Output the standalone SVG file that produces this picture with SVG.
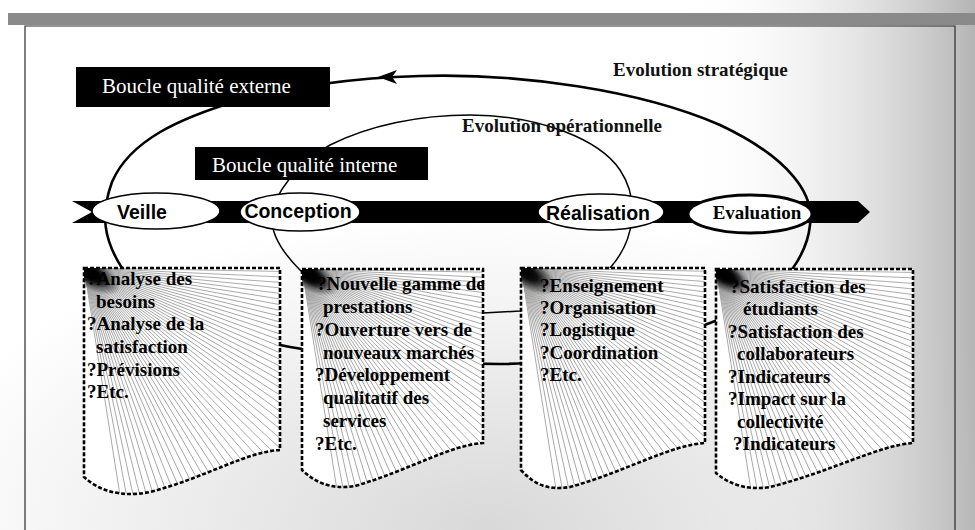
<svg xmlns="http://www.w3.org/2000/svg" xmlns:xlink="http://www.w3.org/1999/xlink" width="975" height="530" viewBox="0 0 975 530">
<style>
.frame{fill:none;stroke:#2a2a2a;stroke-width:1.2}
.loopO{fill:none;stroke:#000;stroke-width:2.6}
.loopI{fill:none;stroke:#000;stroke-width:1.5}
.lab{fill:#000}
.labT{font-family:"Liberation Serif","Times New Roman",serif;font-size:21px;fill:#fff}
.evo{font-family:"Liberation Serif","Times New Roman",serif;font-size:19px;font-weight:bold;fill:#111}
.ell{fill:#fff;stroke:#000;stroke-width:1.6}
.eT{font-family:"Liberation Sans",Arial,sans-serif;font-size:19.5px;font-weight:bold;fill:#000;text-anchor:middle}
.eS{font-family:"Liberation Serif","Times New Roman",serif;font-size:19px;font-weight:bold;fill:#000;text-anchor:middle}
.boxF{fill:#fff;stroke:none}
.box{fill:none;stroke:#000;stroke-width:2.6;stroke-dasharray:4 2}
.bT{font-family:"Liberation Serif","Times New Roman",serif;font-size:19px;font-weight:bold;fill:#000}
.fl{stroke:#8c8c8c;stroke-width:0.7}
</style>
<defs>
<linearGradient id="bgx" x1="0" y1="0" x2="1" y2="0">
<stop offset="0" stop-color="#fff" stop-opacity="0"/>
<stop offset="0.7" stop-color="#fff" stop-opacity="0"/>
<stop offset="1" stop-color="#b4b4b4" stop-opacity="1"/>
</linearGradient>
<radialGradient id="bgb" cx="0.5" cy="1" r="0.6">
<stop offset="0" stop-color="#cfcfcf" stop-opacity="0.8"/>
<stop offset="1" stop-color="#cfcfcf" stop-opacity="0"/>
</radialGradient>
<radialGradient id="blob">
<stop offset="0" stop-color="#000" stop-opacity="1"/>
<stop offset="0.35" stop-color="#000" stop-opacity="0.9"/>
<stop offset="1" stop-color="#000" stop-opacity="0"/>
</radialGradient>
<line id="ln" x1="0" y1="0" x2="460" y2="0" class="fl"/>
<g id="fan">
<use href="#ln" transform="rotate(1)"/><use href="#ln" transform="rotate(2.6)"/><use href="#ln" transform="rotate(4.2)"/><use href="#ln" transform="rotate(5.8)"/><use href="#ln" transform="rotate(7.4)"/><use href="#ln" transform="rotate(9)"/><use href="#ln" transform="rotate(10.6)"/><use href="#ln" transform="rotate(12.2)"/><use href="#ln" transform="rotate(13.8)"/><use href="#ln" transform="rotate(15.4)"/><use href="#ln" transform="rotate(17)"/><use href="#ln" transform="rotate(18.6)"/><use href="#ln" transform="rotate(20.2)"/><use href="#ln" transform="rotate(21.8)"/><use href="#ln" transform="rotate(23.4)"/><use href="#ln" transform="rotate(25)"/><use href="#ln" transform="rotate(26.6)"/><use href="#ln" transform="rotate(28.2)"/><use href="#ln" transform="rotate(29.8)"/><use href="#ln" transform="rotate(31.4)"/><use href="#ln" transform="rotate(33)"/><use href="#ln" transform="rotate(34.6)"/><use href="#ln" transform="rotate(36.2)"/><use href="#ln" transform="rotate(37.8)"/><use href="#ln" transform="rotate(39.4)"/><use href="#ln" transform="rotate(41)"/><use href="#ln" transform="rotate(42.6)"/><use href="#ln" transform="rotate(44.2)"/><use href="#ln" transform="rotate(45.8)"/><use href="#ln" transform="rotate(47.4)"/><use href="#ln" transform="rotate(49)"/><use href="#ln" transform="rotate(50.6)"/><use href="#ln" transform="rotate(52.2)"/><use href="#ln" transform="rotate(53.8)"/><use href="#ln" transform="rotate(55.4)"/><use href="#ln" transform="rotate(57)"/><use href="#ln" transform="rotate(58.6)"/><use href="#ln" transform="rotate(60.2)"/><use href="#ln" transform="rotate(61.8)"/><use href="#ln" transform="rotate(63.4)"/><use href="#ln" transform="rotate(65)"/><use href="#ln" transform="rotate(66.6)"/><use href="#ln" transform="rotate(68.2)"/><use href="#ln" transform="rotate(69.8)"/><use href="#ln" transform="rotate(71.4)"/><use href="#ln" transform="rotate(73)"/><use href="#ln" transform="rotate(74.6)"/><use href="#ln" transform="rotate(76.2)"/><use href="#ln" transform="rotate(77.8)"/><use href="#ln" transform="rotate(79.4)"/><use href="#ln" transform="rotate(81)"/>
<ellipse cx="6" cy="5" rx="34" ry="15" transform="rotate(32 6 5)" fill="url(#blob)"/>
</g>
<path id="s1" d="M84,268 H280 V450 C245,452 205,478 150,492 C120,498 98,490 84,477 Z"/>
<path id="s2" d="M302,269 H483 V443 C450,445 410,470 355,486 C330,490 315,482 302,470 Z"/>
<path id="s3" d="M521,268 H705 V443 C670,445 625,472 570,487 C545,491 532,482 521,470 Z"/>
<path id="s4" d="M716,269 H913 V443 C880,445 830,472 770,487 C745,491 728,483 716,473 Z"/>
<clipPath id="c1"><use href="#s1"/></clipPath>
<clipPath id="c2"><use href="#s2"/></clipPath>
<clipPath id="c3"><use href="#s3"/></clipPath>
<clipPath id="c4"><use href="#s4"/></clipPath>
</defs>

<g id="background">
<rect width="975" height="530" fill="#fff"/>
<rect width="975" height="530" fill="url(#bgx)"/>
<rect width="975" height="530" fill="url(#bgb)"/>
<rect x="8" y="13" width="967" height="12" fill="#8a8a8a"/>
<path class="frame" d="M25,530 V26 H955 V530"/>
</g>

<g id="connectors">
<path id="outer-loop" class="loopO" d="M122,268 C104,240 100,215 112,182 C130,140 180,118 240,100 C300,86 350,78 420,76 C520,73 640,90 720,125 C790,158 815,195 810,225 C808,245 800,258 793,268 C780,290 740,312 710,323 C650,345 560,364 500,364 C420,364 330,354 290,347 C200,330 140,300 122,268 Z"/>
<polygon points="378,77 397,70 392,77 397,84" fill="#000"/>
<path id="inner-loop" class="loopI" d="M300,270 C285,255 270,235 272,215 C274,195 295,165 330,145 C370,125 420,115 470,115 C540,115 600,140 620,170 C640,200 635,240 610,268 C580,295 550,308 520,311 L483,313 C400,318 330,300 300,270 Z"/>
</g>

<g id="banner">
<path d="M72,201 L858,201 L870,212 L858,223 L72,223 L92,212 Z" fill="#000"/>
</g>

<g id="veille"><ellipse class="ell" cx="156" cy="211" rx="64" ry="18"/><text class="eT" x="142" y="219">Veille</text></g>
<g id="conception"><ellipse class="ell" cx="300" cy="212" rx="60" ry="19"/><text class="eT" x="298" y="218">Conception</text></g>
<g id="realisation"><ellipse class="ell" cx="601" cy="212" rx="63" ry="18"/><text class="eT" x="598" y="220">Réalisation</text></g>
<g id="evaluation"><ellipse class="ell" cx="750" cy="214" rx="62" ry="19" style="stroke-width:3"/><text class="eS" x="757" y="219">Evaluation</text></g>

<g id="boucle-externe"><rect class="lab" x="76" y="67" width="254" height="40"/><text class="labT" x="102" y="93">Boucle qualité externe</text></g>
<g id="boucle-interne"><rect class="lab" x="195" y="147" width="233" height="33"/><text class="labT" x="212" y="172">Boucle qualité interne</text></g>
<g id="evolution-strategique"><text class="evo" x="613" y="76">Evolution stratégique</text></g>
<g id="evolution-operationnelle"><text class="evo" x="462" y="132">Evolution opérationnelle</text></g>

<g id="box-veille">
<use href="#s1" class="boxF"/>
<g clip-path="url(#c1)"><use href="#fan" x="84" y="268"/></g>
<text class="bT"><tspan x="87" y="285">?Analyse des</tspan><tspan x="96" y="308">besoins</tspan><tspan x="87" y="330">?Analyse de la</tspan><tspan x="96" y="353">satisfaction</tspan><tspan x="87" y="376">?Prévisions</tspan><tspan x="87" y="398">?Etc.</tspan></text>
<g clip-path="url(#c1)"><ellipse cx="90" cy="273" rx="22" ry="10" transform="rotate(32 90 273)" fill="url(#blob)"/></g>
<use href="#s1" class="box"/>
</g>

<g id="box-conception">
<use href="#s2" class="boxF"/>
<g clip-path="url(#c2)"><use href="#fan" x="302" y="269"/></g>
<text class="bT"><tspan x="317" y="290">?Nouvelle gamme de</tspan><tspan x="323" y="313">prestations</tspan><tspan x="315" y="336">?Ouverture vers de</tspan><tspan x="323" y="359">nouveaux marchés</tspan><tspan x="315" y="381">?Développement</tspan><tspan x="323" y="404">qualitatif des</tspan><tspan x="323" y="427">services</tspan><tspan x="315" y="450">?Etc.</tspan></text>
<g clip-path="url(#c2)"><ellipse cx="310" cy="275" rx="22" ry="10" transform="rotate(32 310 275)" fill="url(#blob)"/></g>
<use href="#s2" class="box"/>
</g>

<g id="box-realisation">
<use href="#s3" class="boxF"/>
<g clip-path="url(#c3)"><use href="#fan" x="521" y="268"/></g>
<text class="bT"><tspan x="540" y="292">?Enseignement</tspan><tspan x="540" y="314">?Organisation</tspan><tspan x="540" y="336">?Logistique</tspan><tspan x="540" y="359">?Coordination</tspan><tspan x="540" y="381">?Etc.</tspan></text>
<use href="#s3" class="box"/>
</g>

<g id="box-evaluation">
<use href="#s4" class="boxF"/>
<g clip-path="url(#c4)"><use href="#fan" x="716" y="269"/></g>
<text class="bT"><tspan x="730" y="293">?Satisfaction des</tspan><tspan x="743" y="315">étudiants</tspan><tspan x="728" y="338">?Satisfaction des</tspan><tspan x="737" y="360">collaborateurs</tspan><tspan x="728" y="383">?Indicateurs</tspan><tspan x="728" y="405">?Impact sur la</tspan><tspan x="737" y="428">collectivité</tspan><tspan x="733" y="450">?Indicateurs</tspan></text>
<g clip-path="url(#c4)"><ellipse cx="726" cy="275" rx="22" ry="10" transform="rotate(32 726 275)" fill="url(#blob)"/></g>
<use href="#s4" class="box"/>
</g>
</svg>
